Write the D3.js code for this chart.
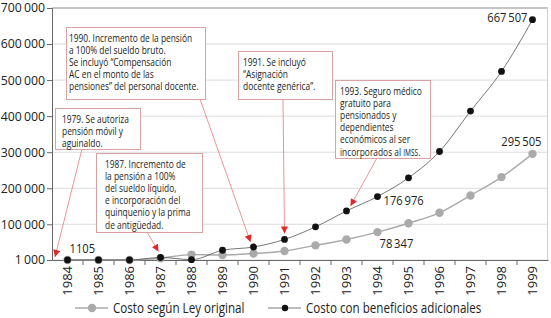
<!DOCTYPE html>
<html>
<head>
<meta charset="utf-8">
<script src="https://cdn.jsdelivr.net/npm/d3@7"></script>
<style>
  body { margin: 0; background: #fff; }
  svg text { font-family: "Open Sans", sans-serif; fill: #222; }
</style>
</head>
<body>
<svg id="chart" width="551" height="318"></svg>
<script>
// values
const years = [1984, 1985, 1986, 1987, 1988, 1989, 1990, 1991, 1992, 1993, 1994, 1995, 1996, 1997, 1998, 1999];
const costoOriginal = [1105, 1200, 1000, 6000, 16000, 15000, 19000, 26000, 41600, 58000, 78347, 103000, 132000, 180000, 231000, 295505];
const costoBeneficios = [1105, 1200, 1000, 8000, 2000, 28000, 37000, 58000, 93000, 137000, 176976, 229000, 302000, 414000, 524000, 667507];
const yTicks = [1000, 100000, 200000, 300000, 400000, 500000, 600000, 700000];
const seriesNames = ["Costo según Ley original", "Costo con beneficios adicionales"];

const notes = [
  { year: 1984, lines: ["1979. Se autoriza", "pensión móvil y", "aguinaldo."] },
  { year: 1987, lines: ["1987. Incremento de", "la pensión a 100%", "del sueldo líquido,", "e incorporación del", "quinquenio y la prima", "de antigüedad."] },
  { year: 1990, lines: ["1990. Incremento de la pensión", "a 100% del sueldo bruto.", "Se incluyó “Compensación", "AC en el monto de las", "pensiones” del personal docente."] },
  { year: 1991, lines: ["1991. Se incluyó", "“Asignación", "docente genérica”."] },
  { year: 1993, lines: ["1993. Seguro médico", "gratuito para", "pensionados y", "dependientes", "económicos al ser", "incorporados al |IMSS|."] }
];

const width = 551, height = 318;
const margin = { top: 8, right: 3, bottom: 58, left: 52 };
const svg = d3.select("#chart");

// the original face is a narrow one, so text gets squeezed sideways
const SX_NOTE = 0.73, SX_LABEL = 0.86, SX_LEGEND = 0.83;

const x = d3.scaleBand().domain(years).range([margin.left, width - margin.right]);
const cx = d => x(d) + x.bandwidth() / 2;
const y = d3.scaleLinear().domain([1000, 700000]).range([height - margin.bottom, margin.top]);
const fmt = v => d3.format(",")(v).replace(/,/g, "\u2009");

// grid
svg.append("g")
  .selectAll("line")
  .data(yTicks)
  .join("line")
  .attr("x1", margin.left).attr("x2", width - margin.right)
  .attr("y1", d => y(d)).attr("y2", d => y(d))
  .attr("stroke", (d, i) => i == yTicks.length - 1 ? "#8a8a8a" : "#dcdcdc")
  .attr("stroke-width", 1);

svg.append("line")
  .attr("x1", width - margin.right - 0.5).attr("x2", width - margin.right - 0.5)
  .attr("y1", margin.top).attr("y2", height - margin.bottom)
  .attr("stroke", "#cfcfcf");

// axes
const yAxis = svg.append("g")
  .attr("transform", `translate(${margin.left},0)`)
  .call(d3.axisLeft(y).tickValues(yTicks).tickFormat(fmt).tickSize(5).tickPadding(2));
yAxis.select(".domain").attr("stroke", "#666");
yAxis.selectAll(".tick line").attr("stroke", "#666");
yAxis.selectAll("text").attr("font-size", 12.3).attr("fill", "#222");

const xAxis = svg.append("g")
  .attr("transform", `translate(0,${height - margin.bottom})`)
  .call(d3.axisBottom(x).tickSize(0).tickSizeOuter(0));
xAxis.select(".domain").attr("stroke", "#666");
xAxis.selectAll(".tick text")
  .attr("font-size", 13).attr("fill", "#222")
  .attr("text-anchor", "end")
  .attr("transform", "translate(0,4) rotate(-90)")
  .attr("x", -2).attr("y", 0).attr("dy", "0.35em");
// ticks between the years
xAxis.selectAll(".sep")
  .data(years.slice(1))
  .join("line")
  .attr("x1", d => x(d)).attr("x2", d => x(d))
  .attr("y1", 0).attr("y2", 5)
  .attr("stroke", "#666");

// series
const line = d3.line().x((d, i) => cx(years[i])).y(d => y(d)).curve(d3.curveMonotoneX);

svg.append("path").datum(costoOriginal)
  .attr("d", line).attr("fill", "none").attr("stroke", "#aaa").attr("stroke-width", 1.4);
svg.append("g").selectAll("circle").data(costoOriginal).join("circle")
  .attr("cx", (d, i) => cx(years[i])).attr("cy", d => y(d)).attr("r", 4.2).attr("fill", "#aaa");

svg.append("path").datum(costoBeneficios)
  .attr("d", line).attr("fill", "none").attr("stroke", "#555").attr("stroke-width", 0.8);
svg.append("g").selectAll("circle").data(costoBeneficios).join("circle")
  .attr("cx", (d, i) => cx(years[i])).attr("cy", d => y(d)).attr("r", 3.4).attr("fill", "#111");

// value labels
const valLabels = [
  { v: costoBeneficios[0], x: cx(1984) + 2, y: y(costoBeneficios[0]) - 12, anchor: "start" },
  { v: costoBeneficios[10], x: cx(1994) + 6, y: y(costoBeneficios[10]) + 4, anchor: "start" },
  { v: costoOriginal[10], x: cx(1994) + 2, y: y(costoOriginal[10]) + 11, anchor: "start" },
  { v: costoOriginal[15], x: cx(1999) + 9, y: y(costoOriginal[15]) - 12, anchor: "end" },
  { v: costoBeneficios[15], x: cx(1999) - 5, y: y(costoBeneficios[15]) - 2, anchor: "end" }
];
svg.append("g").selectAll("g").data(valLabels).join("g")
  .attr("transform", d => `translate(${d.x},${d.y}) scale(${SX_LABEL},1)`)
  .append("text")
  .attr("dy", "0.35em")
  .attr("text-anchor", d => d.anchor)
  .attr("font-size", 13)
  .text(d => d.v < 10000 ? String(d.v) : fmt(d.v));

// annotations
svg.append("defs").append("marker")
  .attr("id", "arrow").attr("viewBox", "0 0 10 10")
  .attr("refX", 10).attr("refY", 5)
  .attr("markerWidth", 8).attr("markerHeight", 7)
  .attr("markerUnits", "userSpaceOnUse")
  .attr("orient", "auto")
  .append("path").attr("d", "M0,0L10,5L0,10Z").attr("fill", "#e3262b");

// box placement for each note (x, y, w, h, text inset, arrow start, target)
const boxes = [
  { x: 55, y: 108, w: 85, h: 41, pad: 7, from: [82, 149], to: [55, 257] },
  { x: 96, y: 153, w: 106, h: 79, pad: 9, from: [147, 232], to: [cx(1987) - 2, y(costoBeneficios[3]) - 6] },
  { x: 66, y: 27, w: 139, h: 72, pad: 3, from: [200, 99], to: [cx(1990) - 3, y(costoBeneficios[6]) - 5] },
  { x: 238, y: 51, w: 94, h: 48, pad: 5, from: [283, 99], to: [cx(1991), y(costoBeneficios[7]) - 6] },
  { x: 335, y: 80, w: 95, h: 78, pad: 5, from: [377, 158], to: [cx(1993) + 4, y(costoBeneficios[9]) - 5] }
];

const ann = svg.append("g").selectAll("g").data(notes).join("g");
ann.append("line")
  .attr("x1", (d, i) => boxes[i].from[0]).attr("y1", (d, i) => boxes[i].from[1])
  .attr("x2", (d, i) => boxes[i].to[0]).attr("y2", (d, i) => boxes[i].to[1])
  .attr("stroke", "#e47a7a").attr("stroke-width", 0.8)
  .attr("marker-end", "url(#arrow)");
ann.append("rect")
  .attr("x", (d, i) => boxes[i].x + 0.5).attr("y", (d, i) => boxes[i].y + 0.5)
  .attr("width", (d, i) => boxes[i].w).attr("height", (d, i) => boxes[i].h)
  .attr("fill", "#fff").attr("stroke", "#d9a3a3").attr("stroke-width", 1);
ann.each(function(d, i) {
  const b = boxes[i];
  const t = d3.select(this).append("g")
    .attr("transform", `translate(${b.x + b.pad},${b.y}) scale(${SX_NOTE},1)`)
    .append("text").attr("font-size", 11.5);
  d.lines.forEach((ln, j) => {
    const parts = ln.split("|");
    const row = t.append("tspan").attr("x", 0).attr("y", 10.5 + j * 12.2).attr("dy", "0.35em");
    parts.forEach((p, k) => {
      if (k == 0) row.text(p);
      else t.append("tspan").attr("font-size", k % 2 ? 9 : 11.5).text(p);
    });
  });
});

// legend
const legend = svg.append("g").attr("transform", `translate(0,${height - 10})`);
const legItems = [
  { name: seriesNames[0], x: 75, color: "#aaa", line: "#aaa", r: 4.2, lw: 1.4 },
  { name: seriesNames[1], x: 268, color: "#111", line: "#555", r: 3.2, lw: 0.8 }
];
legItems.forEach(it => {
  const g = legend.append("g").attr("transform", `translate(${it.x},0)`);
  g.append("line").attr("x1", 0).attr("x2", 33).attr("stroke", it.line).attr("stroke-width", it.lw);
  g.append("circle").attr("cx", 17).attr("r", it.r).attr("fill", it.color);
  g.append("g").attr("transform", `translate(38,0) scale(${SX_LEGEND},1)`)
    .append("text").attr("dy", "0.35em").attr("font-size", 14).text(it.name);
});
</script>
</body>
</html>
